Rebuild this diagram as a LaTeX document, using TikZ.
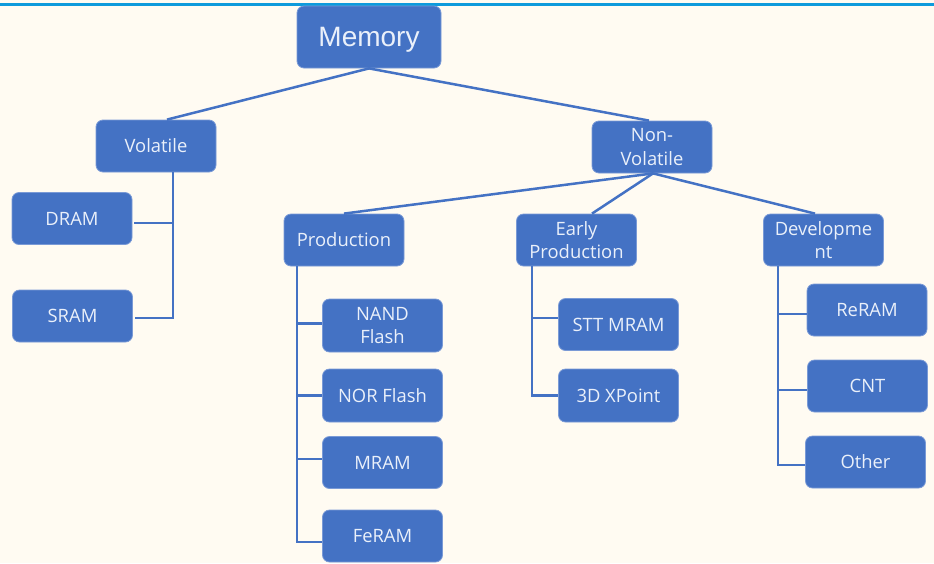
\documentclass[tikz,border=0pt]{standalone}
\usepackage{fontspec}
\setmainfont{Open Sans}
\newfontfamily\memfont{Liberation Sans}
\definecolor{boxblue}{HTML}{4472C4}
\definecolor{boxedge}{HTML}{7A9AD6}
\definecolor{txt}{HTML}{EAF0FA}
\definecolor{bg}{HTML}{FFFBF2}
\definecolor{topline}{HTML}{0E9BDC}
\tikzset{
  box/.style={rectangle, rounded corners=7pt, fill=boxblue, draw=boxedge, line width=0.8pt,
    minimum width=120pt, minimum height=52pt, inner sep=2pt, align=center, text=txt,
    font=\fontsize{18.4}{23.5}\selectfont},
  link/.style={draw=boxblue, line width=2.5pt},
}
\begin{document}
\begin{tikzpicture}[x=1pt,y=-1pt]
\fill[bg] (0,0) rectangle (934,563);
\useasboundingbox (0,0) rectangle (934,563);
\draw[topline, line width=2.5pt] (0,4.5) -- (934,4.5);

\node[box, minimum width=144pt, minimum height=62pt] (mem) at (369,37) {};
\node[text=txt, font=\memfont\fontsize{28}{32}\selectfont, inner sep=0pt] (memlabel) at (369,39.5) {Memory};
\node[box] (vol) at (156,146) {Volatile};
\node[box] (dram) at (72,218.5) {DRAM};
\node[box] (sram) at (72.5,316) {SRAM};
\node[box] (nv) at (652,147) {Non-\\Volatile};
\node[box] (prod) at (344,240) {Production};
\node[box] (early) at (576.5,240) {Early\\Production};
\node[box] (dev) at (823.5,240) {Developme\\nt};
\node[box, minimum height=53pt] (nand) at (382.5,325.5) {NAND\\Flash};
\node[box, minimum height=53pt] (nor) at (382.5,395.5) {NOR Flash};
\node[box] (mram) at (382.5,462.5) {MRAM};
\node[box] (feram) at (382.5,536) {FeRAM};
\node[box] (stt) at (618.5,324.5) {STT MRAM};
\node[box, minimum height=53pt] (xp) at (618.5,395.5) {3D XPoint};
\node[box] (reram) at (867,310) {ReRAM};
\node[box] (cnt) at (867.5,386) {CNT};
\node[box] (other) at (865.5,462) {Other};

% top level
\draw[link] (mem.south) -- ([xshift=11pt]vol.north);
\draw[link] (mem.south) -- ([xshift=-3pt]nv.north);
% volatile
\draw[link] ([xshift=17pt]vol.south) |- ([xshift=2pt,yshift=-2pt]sram.east);
\draw[link] ([xshift=17pt,yshift=-4.5pt]vol.south |- dram.east) -- ([xshift=2pt,yshift=-4.5pt]dram.east);
% non-volatile
\draw[link] ([xshift=1pt]nv.south) -- (prod.north);
\draw[link] ([xshift=1pt]nv.south) -- ([xshift=15.5pt]early.north);
\draw[link] ([xshift=1pt]nv.south) -- ([xshift=-8.5pt]dev.north);
% production
\draw[link] ([xshift=-47pt]prod.south) |- ([yshift=-6pt]feram.west);
\draw[link] ([xshift=-47pt,yshift=2pt]prod.south |- nand.west) -- ([yshift=2pt]nand.west);
\draw[link] ([xshift=-47pt]prod.south |- nor.west) -- (nor.west);
\draw[link] ([xshift=-47pt,yshift=3.5pt]prod.south |- mram.west) -- ([yshift=3.5pt]mram.west);
% early production
\draw[link] ([xshift=-44.5pt]early.south) |- (xp.west);
\draw[link] ([xshift=-44.5pt,yshift=6.5pt]early.south |- stt.west) -- ([yshift=6.5pt]stt.west);
% development
\draw[link] ([xshift=-45.5pt]dev.south) |- ([yshift=-3pt]other.west);
\draw[link] ([xshift=-45.5pt,yshift=-4pt]dev.south |- reram.west) -- ([yshift=-4pt]reram.west);
\draw[link] ([xshift=-45.5pt,yshift=-4pt]dev.south |- cnt.west) -- ([yshift=-4pt]cnt.west);
\end{tikzpicture}
\end{document}
